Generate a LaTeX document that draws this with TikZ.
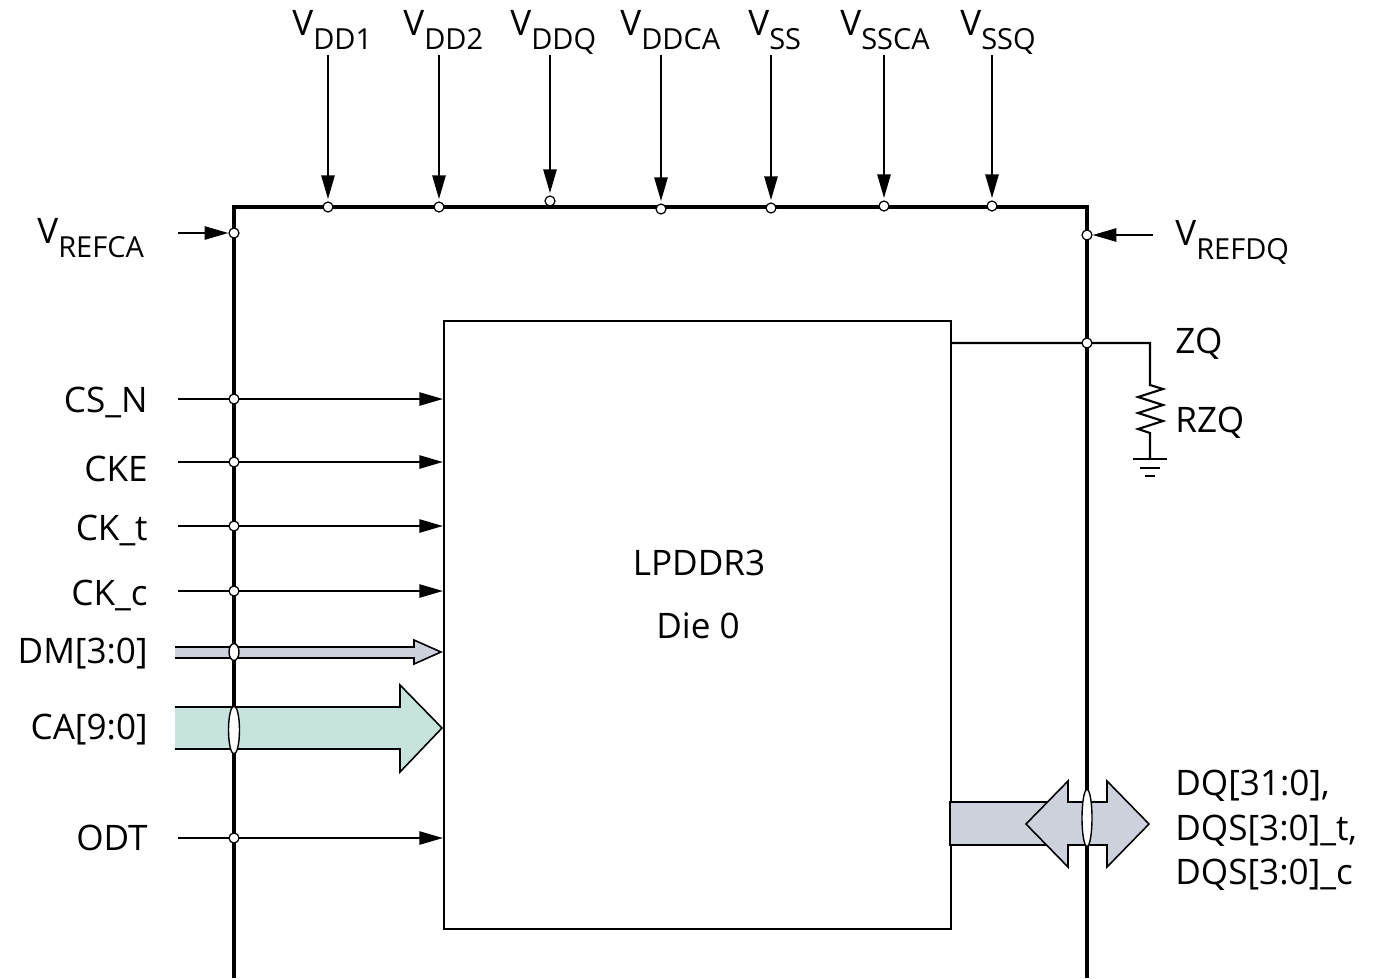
\documentclass[tikz,border=0pt]{standalone}
\usepackage{fontspec}
\setmainfont{Open Sans}
\usetikzlibrary{arrows.meta,shapes.geometric}
\newcommand\Vsub[1]{V\raisebox{-8.5pt}{\fontsize{16.5}{18}\selectfont #1}}
\definecolor{busgray}{HTML}{CDD1DC}
\definecolor{busteal}{HTML}{C6E4DD}
\begin{document}
\begin{tikzpicture}[x=0.02cm,y=-0.02cm,
  lab/.style={inner sep=0pt,font=\fontsize{20}{24}\selectfont},
  pincirc/.style={circle,draw,fill=white,line width=0.7pt,minimum size=0.2cm,inner sep=0pt},
  sig/.style={line width=1.2pt,-{Triangle[length=13.5pt,width=7.5pt]}},
  pkg/.style={line width=1.9pt},
  bus/.style={draw,line width=0.9pt,line join=miter},
  busring/.style={ellipse,draw,fill=white,line width=0.8pt,inner sep=0pt}]
\useasboundingbox (0,0) rectangle (1385,978);
% package outline
\draw[pkg] (234,978) -- (234,207) -- (1087,207) -- (1087,978);
% die box
\node[draw,line width=1pt,minimum width=10.14cm,minimum height=12.16cm,anchor=north west,inner sep=0pt] (die) at (443,320) {};
\node[lab,anchor=base] (dt1) at (699,575) {LPDDR3};
\node[lab,anchor=base] (dt2) at (698,638) {Die 0};

% top supply pins
\foreach \n/\x/\y/\lx/\t in {a/328/207/292/DD1, b/439/207/403/DD2, c/550/201/510/DDQ, d/661/209/620/DDCA, e/771/208/748/SS, f/884/206/840/SSCA, g/992/206/960/SSQ}{
  \node[lab,anchor=base west] (L\n) at (\lx,35) {\Vsub{\t}};
  \coordinate (S\n) at (\x,55);
  \coordinate (P\n) at (\x,\y);
  \draw[sig,shorten >=4.5pt] (S\n) -- (P\n);
  \node[pincirc] (C\n) at (P\n) {};
}

% VREFCA / VREFDQ
\node[lab,anchor=base west] (Lvca) at (37,243) {\Vsub{REFCA}};
\coordinate (Svca) at (178,233);
\node[pincirc] (Cvca) at (234,233) {};
\draw[sig] (Svca) -- (Cvca.west);
\node[lab,anchor=base west] (Lvdq) at (1175,245) {\Vsub{REFDQ}};
\coordinate (Svdq) at (1153,235);
\node[pincirc] (Cvdq) at (1087,235) {};
\draw[sig] (Svdq) -- (Cvdq.east);

% left control signals
\foreach \n/\y/\b/\t in {cs/399/412/CS\_N, cke/462/481/CKE, ckt/526/540/CK\_t, ckc/591/605/CK\_c, odt/838/850/ODT}{
  \node[lab,anchor=base east] (L\n) at (148,\b) {\t};
  \coordinate (S\n) at (178,\y);
  \coordinate (E\n) at (443,\y);
  \draw[sig] (S\n) -- (E\n);
  \node[pincirc] (C\n) at (234,\y) {};
}

% DM bus
\node[lab,anchor=base east] (Ldm) at (148,663) {DM[3:0]};
\coordinate (Tdm) at (441,652);
\draw[bus,fill=busgray] (175,647) -- (414,647) -- (414,640) -- (Tdm) -- (414,664) -- (414,658) -- (175,658);
\node[busring,minimum width=0.2cm,minimum height=0.34cm] (Rdm) at (234,652) {};

% CA bus
\node[lab,anchor=base east] (Lca) at (148,739) {CA[9:0]};
\coordinate (Tca) at (442,728);
\draw[bus,fill=busteal] (175,707) -- (400,707) -- (400,685) -- (Tca) -- (400,772) -- (400,749) -- (175,749);
\node[busring,minimum width=0.22cm,minimum height=0.96cm] (Rca) at (234,730) {};

% ZQ
\coordinate (Zs) at (950,343);
\coordinate (Zc) at (1150,343);
\coordinate (Zr) at (1150,385);
\coordinate (Zg) at (1150,459);
\draw[line width=1.2pt] (Zs) -- (Zc) -- (Zr) -- (1163,389) -- (1138,397) -- (1163,405) -- (1138,413) -- (1163,421) -- (1138,429) -- (1150,433) -- (Zg);
\draw[line width=1.2pt] (1133,459) -- (1167,459) (1140,468) -- (1160,468) (1145,476) -- (1155,476);
\node[pincirc] (Czq) at (1087,343) {};
\node[lab,anchor=base west] (Lzq) at (1175,353) {ZQ};
\node[lab,anchor=base west] (Lrzq) at (1175,432) {RZQ};

% DQ bidirectional bus
\coordinate (Dl) at (1026,824);
\coordinate (Dr) at (1149,824);
\draw[bus,fill=busgray] (950,802) rectangle (1068,845);
\draw[bus,fill=busgray] (Dl) -- (1068,781) -- (1068,802) -- (1107,802) -- (1107,781) -- (Dr) -- (1107,867) -- (1107,845) -- (1068,845) -- (1068,867) -- cycle;
\node[busring,minimum width=0.2cm,minimum height=1.14cm] (Rdq) at (1087,818) {};
\node[lab,anchor=base west,align=left] (Ldq1) at (1175,795) {DQ[31:0],};
\node[lab,anchor=base west] (Ldq2) at (1175,840) {DQS[3:0]\_t,};
\node[lab,anchor=base west] (Ldq3) at (1175,884) {DQS[3:0]\_c};
\end{tikzpicture}
\end{document}
